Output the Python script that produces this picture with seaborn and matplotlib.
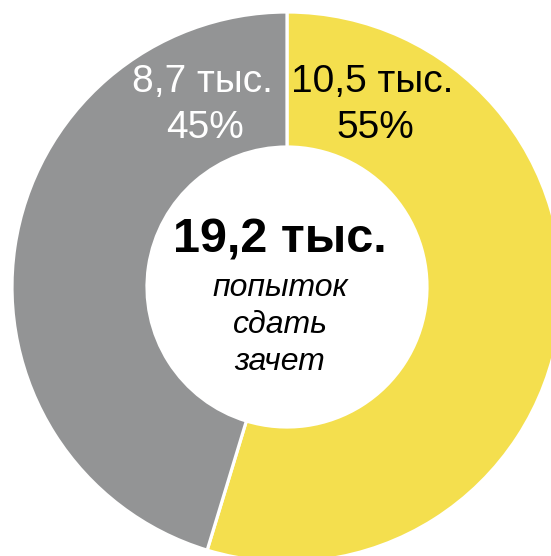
import matplotlib
matplotlib.use("Agg")
import matplotlib.pyplot as plt
import seaborn as sns

# Data
categories = ["Сдали", "Не сдали"]
values = [10.5, 8.7]            # тыс.
value_labels = ["10,5 тыс.", "8,7 тыс."]
pct_labels = ["55%", "45%"]
total_label = "19,2 тыс."
center_lines = ["попыток", "сдать", "зачет"]

colors = ["#F4DF4E", "#939495"]
label_colors = ["black", "white"]

sns.set_theme(style="white")
plt.rcParams["font.family"] = ["Liberation Sans", "DejaVu Sans"]

W, H = 551, 556
fig = plt.figure(figsize=(W / 100, H / 100), dpi=100)
ax = fig.add_axes([0, 0, 1, 1])

cx, cy = 287, H - 287
R, r = 275, 140

ax.pie(values, colors=colors, startangle=90, counterclock=False,
       center=(cx, cy), radius=R,
       wedgeprops=dict(width=R - r, edgecolor="white", linewidth=2.3))

ax.set_xlim(0, W)
ax.set_ylim(0, H)
ax.set_aspect("equal")
ax.axis("off")

# Slice labels
label_x = [372, 202]
for x, vl, pl, c in zip(label_x, value_labels, pct_labels, label_colors):
    ax.text(x, H - 92, vl, ha="center", va="baseline", fontsize=28, color=c)
    ax.text(x + 3, H - 138, pl, ha="center", va="baseline", fontsize=28, color=c)

# Centre text
ax.text(280, H - 253, total_label, ha="center", va="baseline",
        fontsize=35, fontweight="bold", color="black")
for i, line in enumerate(center_lines):
    ax.text(280, H - (296 + 37 * i), line, ha="center", va="baseline",
            fontsize=23, style="italic", color="black")

fig.savefig("out.png", dpi=100, facecolor="white")
